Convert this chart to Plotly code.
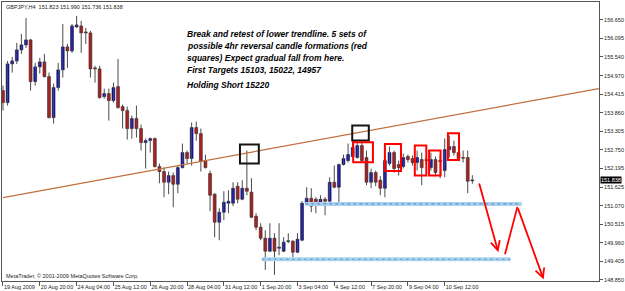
import plotly.graph_objects as go

# ---------------- data (GBPJPY, H4) ----------------
opens = [154.53, 154.17, 155.33, 155.42, 155.75, 155.90, 156.05, 154.80, 155.24, 155.39,
         154.95, 153.72, 154.62, 155.15, 155.84, 155.72, 156.44, 156.47, 156.29, 156.26,
         155.21, 155.18, 154.35, 154.44, 154.23, 154.65, 154.05, 153.93, 153.39, 153.69,
         153.39, 152.97, 153.03, 153.09, 152.25, 152.10, 151.78, 151.98, 151.72, 152.22,
         152.67, 152.49, 153.42, 153.24, 152.43, 152.04, 151.42, 150.58, 150.88, 151.15,
         151.15, 151.66, 151.27, 151.60, 151.48, 150.76, 150.43, 150.10, 149.71, 150.10,
         149.80, 149.71, 150.00, 150.01, 149.68, 150.04, 151.15, 151.30, 151.27, 151.12,
         151.27, 151.21, 151.78, 151.63, 152.31, 152.43, 152.55, 152.52, 152.88, 152.52,
         151.78, 152.07, 151.84, 151.60, 152.34, 152.67, 152.31, 152.25, 152.55, 152.49,
         152.37, 152.46, 152.46, 152.22, 152.46, 152.43, 152.13, 152.76, 152.85, 152.67,
         152.52, 152.52, 151.823]
highs = [154.68, 155.42, 155.54, 155.96, 156.23, 156.71, 156.08, 155.36, 155.51, 155.63,
         155.07, 154.74, 155.36, 156.53, 155.93, 156.53, 156.77, 156.62, 156.41, 156.32,
         155.27, 155.27, 154.59, 154.59, 154.77, 155.48, 154.11, 154.05, 153.78, 154.08,
         153.51, 153.09, 153.12, 153.12, 152.34, 152.22, 152.10, 152.07, 152.28, 152.94,
         152.73, 153.57, 153.60, 153.39, 152.61, 152.13, 151.45, 151.00, 151.51, 151.54,
         151.78, 151.78, 151.84, 152.73, 151.90, 150.85, 150.55, 150.34, 150.55, 150.25,
         150.55, 150.13, 150.25, 150.04, 150.25, 151.21, 151.63, 151.60, 151.33, 151.39,
         151.33, 151.93, 152.28, 152.34, 152.61, 152.94, 153.03, 152.97, 152.97, 152.73,
         152.19, 152.13, 151.96, 152.58, 152.85, 152.73, 152.43, 152.64, 152.61, 152.58,
         152.73, 152.67, 152.55, 152.67, 152.55, 152.58, 153.09, 153.18, 153.03, 152.79,
         152.73, 152.73, 151.990]
lows = [153.93, 154.08, 155.07, 155.33, 155.63, 155.81, 154.53, 154.68, 155.04, 154.92,
        153.69, 153.54, 154.53, 154.92, 155.21, 155.66, 156.41, 155.66, 155.93, 154.92,
        154.77, 154.29, 154.29, 153.63, 154.17, 153.99, 153.39, 153.06, 153.09, 153.12,
        152.73, 152.19, 152.67, 152.22, 151.75, 151.33, 151.42, 151.03, 151.45, 152.19,
        152.34, 152.28, 153.03, 152.10, 152.19, 150.91, 150.13, 150.04, 150.64, 150.85,
        151.06, 151.15, 151.24, 151.39, 150.70, 150.34, 150.04, 149.15, 149.68, 149.00,
        149.59, 149.68, 149.95, 149.53, 149.65, 150.01, 151.09, 150.88, 150.85, 151.09,
        150.79, 151.18, 151.60, 151.18, 152.28, 152.37, 152.52, 152.49, 152.37, 151.69,
        151.60, 151.66, 151.39, 151.33, 152.28, 152.07, 151.98, 152.19, 152.37, 152.28,
        152.13, 151.69, 152.34, 152.13, 151.96, 151.90, 151.93, 152.52, 152.58, 152.43,
        152.37, 151.45, 151.736]
closes = [154.17, 155.33, 155.42, 155.75, 155.90, 156.05, 154.80, 155.24, 155.39, 154.95,
          153.72, 154.62, 155.15, 155.84, 155.72, 156.47, 156.50, 156.26, 156.26, 155.18,
          155.18, 154.32, 154.44, 154.23, 154.62, 154.02, 153.93, 153.39, 153.69, 153.39,
          152.97, 153.03, 153.09, 152.25, 152.10, 151.78, 151.98, 151.72, 152.22, 152.67,
          152.49, 153.42, 153.24, 152.40, 152.22, 151.39, 150.58, 150.88, 151.18, 151.21,
          151.60, 151.27, 151.60, 151.51, 150.73, 150.43, 150.10, 149.71, 150.10, 149.71,
          149.83, 149.98, 150.02, 149.68, 150.07, 151.15, 151.30, 151.06, 151.12, 151.27,
          151.21, 151.78, 151.63, 152.31, 152.49, 152.61, 152.82, 152.88, 152.43, 151.78,
          152.07, 151.78, 151.60, 152.43, 152.67, 152.19, 152.22, 152.52, 152.46, 152.37,
          152.52, 152.22, 152.43, 152.46, 152.07, 152.40, 152.76, 152.85, 152.67, 152.49,
          152.50, 151.81, 151.838]

symbol = "GBPJPY,H4"
time_labels = ["19 Aug 2009", "20 Aug 20:00", "24 Aug 04:00", "25 Aug 12:00", "26 Aug 20:00",
               "28 Aug 04:00", "31 Aug 12:00", "1 Sep 20:00", "3 Sep 04:00", "4 Sep 12:00",
               "7 Sep 20:00", "9 Sep 04:00", "10 Sep 12:00"]
bars_per_label = 8
price_ticks = [156.650, 156.095, 155.540, 154.970, 154.415, 153.860, 153.305, 152.750,
               152.195, 151.625, 151.070, 150.515, 149.960, 149.405, 148.850]

# trendline (bar index, price)
trend_x = [0, 129.5]
trend_y = [151.32, 154.59]
# support levels: price, from bar, to bar
support_price = [151.13, 149.47]
support_start = [65.7, 56.25]
support_end = [112.7, 110.3]
# highlighted zones (bar0, bar1, price_lo, price_hi)
black_boxes = [(51.5, 55.6, 152.34, 152.91), (75.9, 79.5, 153.03, 153.48)]
red_boxes = [(76.1, 80.4, 152.38, 152.98), (83.0, 86.5, 152.12, 152.93),
             (89.5, 92.0, 151.98, 152.88), (92.6, 95.1, 151.98, 152.73),
             (96.7, 99.1, 152.45, 153.25)]
# projected path
path1_x = [103.4, 107.65]
path1_y = [151.79, 149.68]
path2_x = [109.1, 111.8, 117.5]
path2_y = [149.62, 151.04, 148.86]

note_lines = ["Break and retest of lower trendline. 5 sets of",
              "possible 4hr reversal candle formations (red",
              "squares) Expect gradual fall from here.",
              "First Targets 15103, 15022, 14957"]
note_position = "Holding Short 15220"

# ---------------- figure ----------------
FONT = "Liberation Sans, Arial, sans-serif"
n = len(opens)
idx = list(range(n))

fig = go.Figure()

# wicks
wx, wy = [], []
for i in idx:
    wx += [i, i, None]
    wy += [lows[i], highs[i], None]
fig.add_trace(go.Scatter(x=wx, y=wy, mode="lines",
                         line=dict(color="#4a4a4a", width=1), hoverinfo="skip"))

# bodies
MIN_H = 0.025
for bull, color in ((True, "#0000F0"), (False, "#FF0000")):
    sel = [i for i in idx if (closes[i] >= opens[i]) == bull]
    base = [min(opens[i], closes[i]) for i in sel]
    hgt = [max(abs(closes[i] - opens[i]), MIN_H) for i in sel]
    fig.add_trace(go.Bar(x=sel, y=hgt, base=base, width=0.62,
                         marker=dict(color=color, line=dict(color="#202020", width=0.6)),
                         hoverinfo="skip"))

# trendline
fig.add_trace(go.Scatter(x=trend_x, y=trend_y, mode="lines",
                         line=dict(color="#C0703E", width=1.2), hoverinfo="skip"))

# support levels
for p, a, b in zip(support_price, support_start, support_end):
    fig.add_trace(go.Scatter(x=[a, b], y=[p, p], mode="lines",
                             line=dict(color="#A9D3F0", width=4), hoverinfo="skip"))
    fig.add_trace(go.Scatter(x=[a, b], y=[p, p], mode="lines",
                             line=dict(color="#6A94BD", width=1.1, dash="dot"), hoverinfo="skip"))

# projected path (first leg of the second move)
fig.add_trace(go.Scatter(x=path2_x[:2], y=path2_y[:2], mode="lines",
                         line=dict(color="#FF0000", width=1.8), hoverinfo="skip"))

shapes = []
for (x0, x1, y0, y1) in black_boxes:
    shapes.append(dict(type="rect", xref="x", yref="y", x0=x0, x1=x1, y0=y0, y1=y1,
                       line=dict(color="#151515", width=2), fillcolor="rgba(0,0,0,0)"))
for (x0, x1, y0, y1) in red_boxes:
    shapes.append(dict(type="rect", xref="x", yref="y", x0=x0, x1=x1, y0=y0, y1=y1,
                       line=dict(color="#FF0000", width=2), fillcolor="rgba(0,0,0,0)"))

annotations = []
# arrows
annotations.append(dict(x=path1_x[1], y=path1_y[1], ax=path1_x[0], ay=path1_y[0],
                        xref="x", yref="y", axref="x", ayref="y", text="", showarrow=True,
                        arrowhead=5, arrowsize=1, arrowwidth=1.8, arrowcolor="#FF0000"))
annotations.append(dict(x=path2_x[2], y=path2_y[2], ax=path2_x[1], ay=path2_y[1],
                        xref="x", yref="y", axref="x", ayref="y", text="", showarrow=True,
                        arrowhead=5, arrowsize=1, arrowwidth=1.8, arrowcolor="#FF0000"))
# note text: one annotation per line (px centres 33, 45, 57, 69; 84)
PLOT_TOP, PLOT_H = 1, 280
note_px = [33, 45, 57, 69]
for line, py in zip(note_lines, note_px):
    annotations.append(dict(xref="paper", yref="paper", x=0.307, y=1 - (py - PLOT_TOP) / PLOT_H,
                            xanchor="left", yanchor="middle", align="left", showarrow=False,
                            text="<b><i>" + line + "</i></b>",
                            font=dict(family=FONT, size=8.5, color="#000")))
annotations.append(dict(xref="paper", yref="paper", x=0.307, y=1 - (84 - PLOT_TOP) / PLOT_H,
                        xanchor="left", yanchor="middle", align="left", showarrow=False,
                        text="<b><i>" + note_position + "</i></b>",
                        font=dict(family=FONT, size=8.5, color="#000")))
# header
header = "%s  %.3f %.3f %.3f %.3f" % (symbol, opens[-1], highs[-1], lows[-1], closes[-1])
annotations.append(dict(xref="paper", yref="paper", x=0.004, y=0.982, xanchor="left", yanchor="middle",
                        showarrow=False, text=header, font=dict(family=FONT, size=5.5, color="#222")))
# footer
annotations.append(dict(xref="paper", yref="paper", x=0.003, y=0.018, xanchor="left", yanchor="middle",
                        showarrow=False, text="MetaTrader, © 2001-2009 MetaQuotes Software Corp.",
                        font=dict(family=FONT, size=5.5, color="#222")))
# current price tag
annotations.append(dict(xref="paper", yref="y", x=1, y=closes[-1], xanchor="left", yanchor="middle",
                        xshift=1, showarrow=False, text="%.3f" % closes[-1], bgcolor="#000",
                        borderpad=0, font=dict(family=FONT, size=5.5, color="#fff")))

fig.update_layout(
    width=625, height=291,
    margin=dict(l=1, r=22, t=1, b=10),
    paper_bgcolor="white", plot_bgcolor="white",
    showlegend=False, barmode="overlay", hovermode=False,
    shapes=shapes, annotations=annotations,
    font=dict(family=FONT, size=5.5, color="#222"),
    xaxis=dict(range=[-0.215, 129.53], showgrid=False, zeroline=False,
               tickmode="array",
               tickvals=[k * bars_per_label for k in range(len(time_labels))],
               ticktext=time_labels, ticks="outside", ticklen=4, tickcolor="#555",
               ticklabelposition="outside right", tickangle=0,
               showline=True, linecolor="#555", linewidth=1, mirror=True,
               tickfont=dict(family=FONT, size=5.5, color="#222")),
    yaxis=dict(range=[148.816, 157.188], side="right", showgrid=False, zeroline=False,
               tickmode="array", tickvals=price_ticks,
               ticktext=["%.3f" % v for v in price_ticks],
               ticks="outside", ticklen=3, tickcolor="#555",
               showline=True, linecolor="#555", linewidth=1, mirror=True,
               tickfont=dict(family=FONT, size=5.5, color="#222")),
)

fig.write_html("out.html")
